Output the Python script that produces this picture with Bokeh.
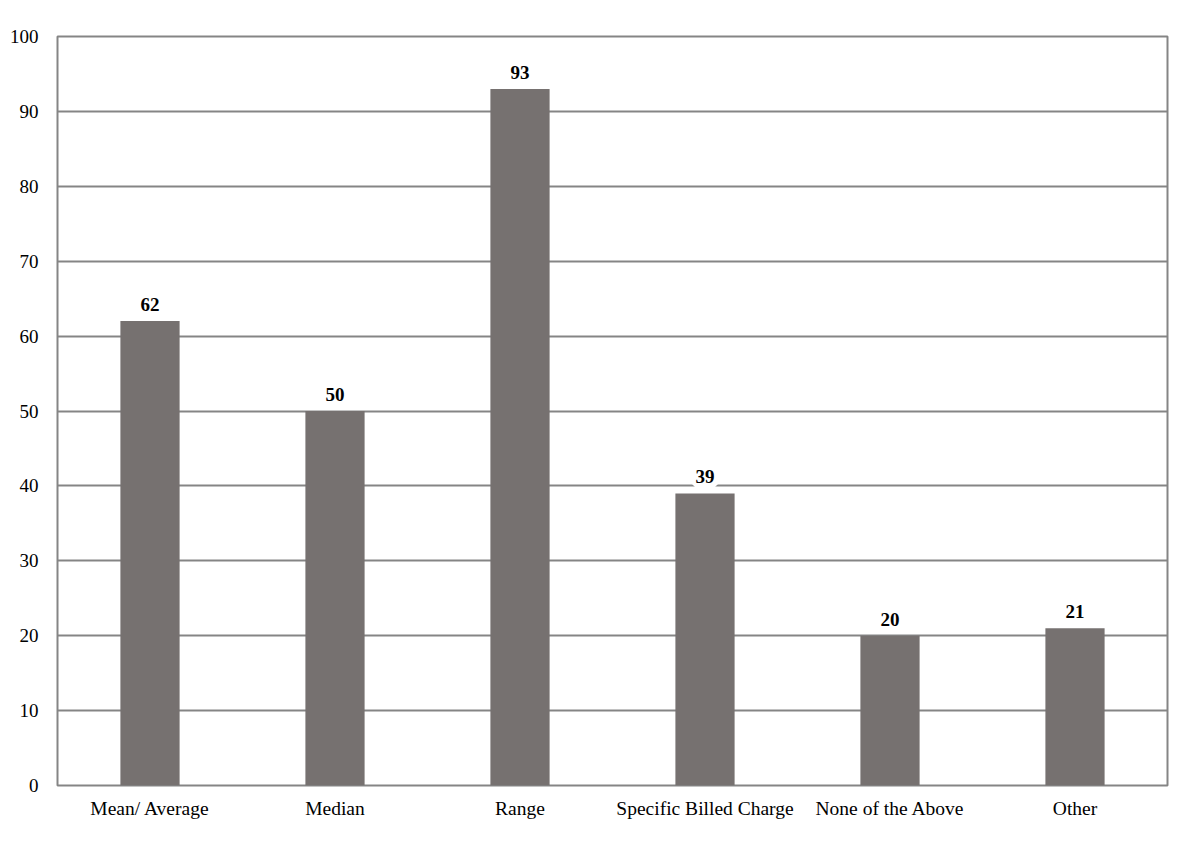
from bokeh.plotting import figure
from bokeh.models import ColumnDataSource, LabelSet, FactorRange, Range1d, FixedTicker
from bokeh.embed import file_html
from bokeh.resources import INLINE

categories = ["Mean/ Average", "Median", "Range", "Specific Billed Charge", "None of the Above", "Other"]
values = [62, 50, 93, 39, 20, 21]
y_ticks = [0, 10, 20, 30, 40, 50, 60, 70, 80, 90, 100]

src = ColumnDataSource(dict(cat=categories, val=values, lab=[str(v) for v in values]))

p = figure(x_range=FactorRange(*categories, range_padding=0), y_range=Range1d(0, 100),
           frame_width=1110, frame_height=749, output_backend="svg", toolbar_location=None,
           min_border_left=57, min_border_top=36, min_border_right=8, min_border_bottom=44)

p.vbar(x="cat", top="val", width=0.32, source=src, fill_color="#767170", line_color=None)

labels = LabelSet(x="cat", y="val", text="lab", source=src, text_align="center",
                  text_baseline="bottom", y_offset=10, text_font="Liberation Serif",
                  text_font_size="19px", text_font_style="bold", text_color="black",
                  background_fill_color="white", border_line_color="white",
                  border_line_width=8)
p.add_layout(labels)

p.outline_line_color = "#858585"
p.outline_line_width = 2
p.xgrid.grid_line_color = None
p.ygrid.grid_line_color = "#858585"
p.ygrid.grid_line_width = 2
p.yaxis.ticker = FixedTicker(ticks=y_ticks)

for ax in (p.xaxis[0], p.yaxis[0]):
    ax.axis_line_color = None
    ax.major_tick_line_color = None
    ax.minor_tick_line_color = None
    ax.major_tick_out = 0
    ax.major_tick_in = 0
    ax.major_label_text_font = "Liberation Serif"
    ax.major_label_text_font_size = "19px"
    ax.major_label_text_color = "black"
p.xaxis.major_label_text_font_size = "19.5px"
p.yaxis.major_label_standoff = 19
p.xaxis.major_label_standoff = 12

open("out.html", "w").write(file_html(p, INLINE))
